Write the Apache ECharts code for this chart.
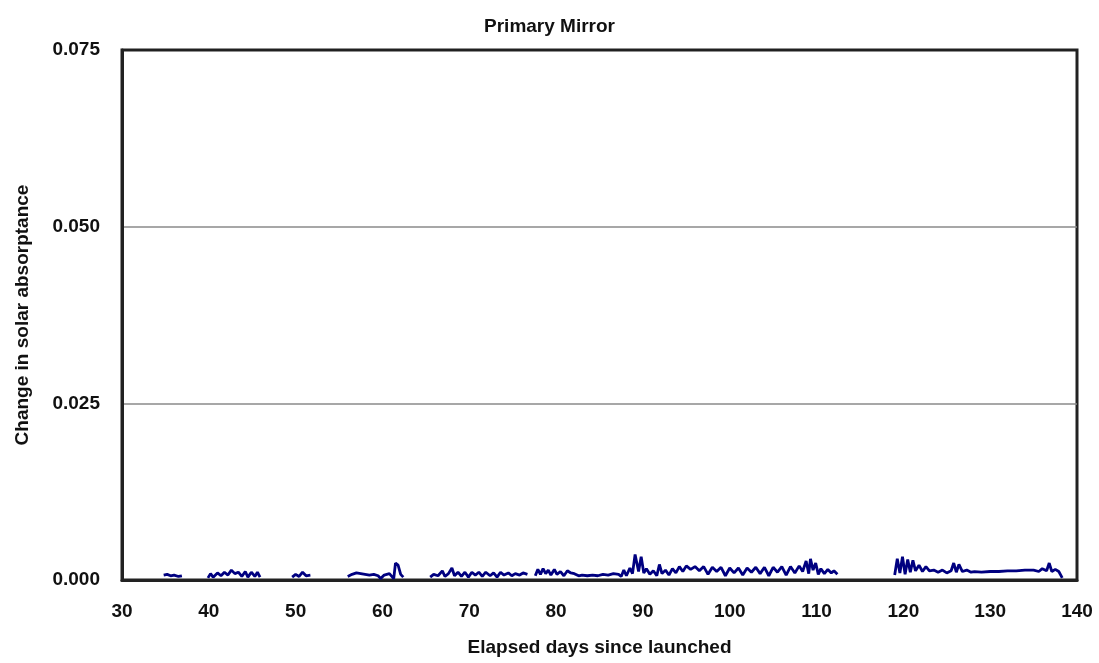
<!DOCTYPE html>
<html>
<head>
<meta charset="utf-8">
<script src="https://cdn.jsdelivr.net/npm/echarts@6/dist/echarts.min.js"></script>
<style>html,body{margin:0;padding:0;background:#fff}#c{width:1099px;height:663px}</style>
</head>
<body>
<div id="c"></div>
<script>
const titleText = 'Primary Mirror';
const xName = 'Elapsed days since launched';
const yName = 'Change in solar absorptance';
const yTicks = [0, 0.025, 0.05, 0.075];
const xTicks = [30, 40, 50, 60, 70, 80, 90, 100, 110, 120, 130, 140];

// days since launch (null value = gap in record)
const days = [
  34.8, 35.2, 35.6, 36.0, 36.5, 36.9, 38.0,
  39.9, 40.2, 40.5, 41.0, 41.4, 41.8, 42.2, 42.6, 43.0, 43.4, 43.8, 44.2, 44.5, 44.9, 45.3, 45.6, 45.9, 47.0,
  49.6, 50.0, 50.4, 50.8, 51.2, 51.7, 53.0,
  56.0, 56.5, 57.0, 57.5, 58.0, 58.5, 59.0, 59.5, 59.8, 60.2, 60.8, 61.3, 61.5, 61.8, 62.1, 62.4, 64.0,
  65.5, 65.9, 66.4, 66.9, 67.2, 67.6, 68.0, 68.3, 68.7, 69.1, 69.5, 69.9, 70.3, 70.7, 71.1, 71.5, 71.9, 72.4, 72.8, 73.2, 73.6, 74.0, 74.5, 74.9, 75.3, 75.8, 76.2, 76.7, 77.1,
  77.6, 77.9, 78.2, 78.5, 78.8, 79.1, 79.4, 79.8, 80.1, 80.5, 80.9, 81.3, 81.7, 82.1, 82.6, 83.0, 83.6, 84.2, 84.8, 85.4, 86.0, 86.6, 87.2, 87.5,
  87.8, 88.1, 88.5, 88.8, 89.1, 89.3, 89.5, 89.8, 90.1, 90.4, 90.8, 91.2, 91.6, 91.9, 92.2, 92.6, 93.0, 93.4, 93.8, 94.2, 94.6, 95.0, 95.5,
  96.0, 96.5, 97.0, 97.5, 98.0, 98.5, 99.0, 99.5, 100.0, 100.5, 101.0, 101.5, 102.0, 102.5, 103.0, 103.5, 104.0, 104.5, 105.0, 105.5,
  106.0, 106.5, 107.0, 107.5, 108.0, 108.4, 108.8, 109.1, 109.3, 109.6, 109.9, 110.2, 110.5, 110.9, 111.3, 111.7, 112.0, 112.4, 115.0,
  119.0, 119.3, 119.6, 119.9, 120.2, 120.5, 120.8, 121.1, 121.4, 121.8, 122.2, 122.6, 123.0, 123.5, 124.0, 124.5, 125.0, 125.5, 125.8,
  126.1, 126.4, 126.8, 127.3, 127.8, 128.2, 129.0, 130.0, 131.0, 132.0, 133.0, 134.0, 135.0, 135.6, 136.0, 136.5, 136.8, 137.1, 137.5, 137.9, 138.3
];
const absorptance = [
  0.0007, 0.0008, 0.0006, 0.0007, 0.0005, 0.0006, null,
  0.0003, 0.0009, 0.0004, 0.0010, 0.0006, 0.0011, 0.0007, 0.0014, 0.0009, 0.0011, 0.0005, 0.0012, 0.0004, 0.0011, 0.0005, 0.0011, 0.0004, null,
  0.0004, 0.0008, 0.0005, 0.0011, 0.0006, 0.0007, null,
  0.0005, 0.0008, 0.0010, 0.0009, 0.0008, 0.0007, 0.0008, 0.0006, 0.0002, 0.0007, 0.0009, 0.0002, 0.0024, 0.0021, 0.0008, 0.0004, null,
  0.0004, 0.0008, 0.0006, 0.0013, 0.0005, 0.0009, 0.0017, 0.0006, 0.0011, 0.0005, 0.0011, 0.0004, 0.0011, 0.0007, 0.0011, 0.0005, 0.0011, 0.0006, 0.0010, 0.0004, 0.0011, 0.0007, 0.0010, 0.0006, 0.0009, 0.0007, 0.0010, 0.0008, null,
  0.0006, 0.0015, 0.0008, 0.0016, 0.0009, 0.0014, 0.0007, 0.0015, 0.0008, 0.0012, 0.0006, 0.0013, 0.0010, 0.0009, 0.0006, 0.0007, 0.0006, 0.0007, 0.0006, 0.0008, 0.0007, 0.0009, 0.0008, 0.0005,
  0.0014, 0.0006, 0.0017, 0.0009, 0.0036, 0.0038, 0.0012, 0.0033, 0.0010, 0.0016, 0.0008, 0.0013, 0.0006, 0.0022, 0.0009, 0.0014, 0.0007, 0.0016, 0.0010, 0.0019, 0.0012, 0.0020, 0.0015,
  0.0019, 0.0013, 0.0019, 0.0008, 0.0018, 0.0012, 0.0018, 0.0006, 0.0017, 0.0010, 0.0017, 0.0007, 0.0017, 0.0011, 0.0018, 0.0009, 0.0018, 0.0006, 0.0018, 0.0011,
  0.0019, 0.0007, 0.0019, 0.0010, 0.0020, 0.0012, 0.0027, 0.0009, 0.0030, 0.0014, 0.0024, 0.0008, 0.0016, 0.0009, 0.0015, 0.0010, 0.0013, 0.0008, null,
  0.0007, 0.0030, 0.0010, 0.0033, 0.0008, 0.0029, 0.0011, 0.0028, 0.0013, 0.0021, 0.0012, 0.0019, 0.0013, 0.0014, 0.0011, 0.0014, 0.0010, 0.0013, 0.0024,
  0.0011, 0.0022, 0.0012, 0.0014, 0.0011, 0.0012, 0.0011, 0.0012, 0.0012, 0.0013, 0.0013, 0.0014, 0.0014, 0.0012, 0.0016, 0.0013, 0.0024, 0.0012, 0.0015, 0.0012, 0.0003
];

const seriesData = days.map((d, i) => [d, absorptance[i] === null ? '-' : absorptance[i]]);
const FONT = '"Liberation Sans", Arial, sans-serif';

const chart = echarts.init(document.getElementById('c'), null, {renderer: 'canvas'});
chart.setOption({
  animation: false,
  backgroundColor: '#ffffff',
  title: {
    text: titleText,
    left: 'center',
    top: 12,
    textStyle: {fontFamily: FONT, fontSize: 19, fontWeight: 'bold', color: '#111'}
  },
  grid: {
    left: 122, right: 22, top: 50, bottom: 83,
    show: true, borderColor: '#222', borderWidth: 3, backgroundColor: 'transparent'
  },
  xAxis: {
    type: 'value',
    min: xTicks[0], max: xTicks[xTicks.length - 1], interval: 10,
    name: xName, nameLocation: 'middle', nameGap: 58,
    nameTextStyle: {fontFamily: FONT, fontSize: 19, fontWeight: 'bold', color: '#111'},
    axisLine: {show: true, lineStyle: {color: '#222', width: 3}},
    axisTick: {show: false},
    splitLine: {show: false},
    axisLabel: {margin: 22, fontFamily: FONT, fontSize: 19, fontWeight: 'bold', color: '#111'}
  },
  yAxis: {
    type: 'value',
    min: yTicks[0], max: yTicks[yTicks.length - 1], interval: 0.025,
    name: yName, nameLocation: 'middle', nameGap: 90,
    nameTextStyle: {fontFamily: FONT, fontSize: 19, fontWeight: 'bold', color: '#111'},
    axisLine: {show: true, lineStyle: {color: '#222', width: 3}},
    axisTick: {show: false},
    splitLine: {show: true, lineStyle: {color: ['#222', '#8a8a8a', '#8a8a8a', '#222'], width: 1.5}},
    axisLabel: {margin: 22, fontFamily: FONT, fontSize: 19, fontWeight: 'bold', color: '#111',
      formatter: v => v.toFixed(3)}
  },
  series: [{
    type: 'line',
    data: seriesData,
    showSymbol: false,
    connectNulls: false,
    lineStyle: {color: '#000080', width: 2.8},
    itemStyle: {color: '#000080'}
  }]
});
</script>
</body>
</html>
